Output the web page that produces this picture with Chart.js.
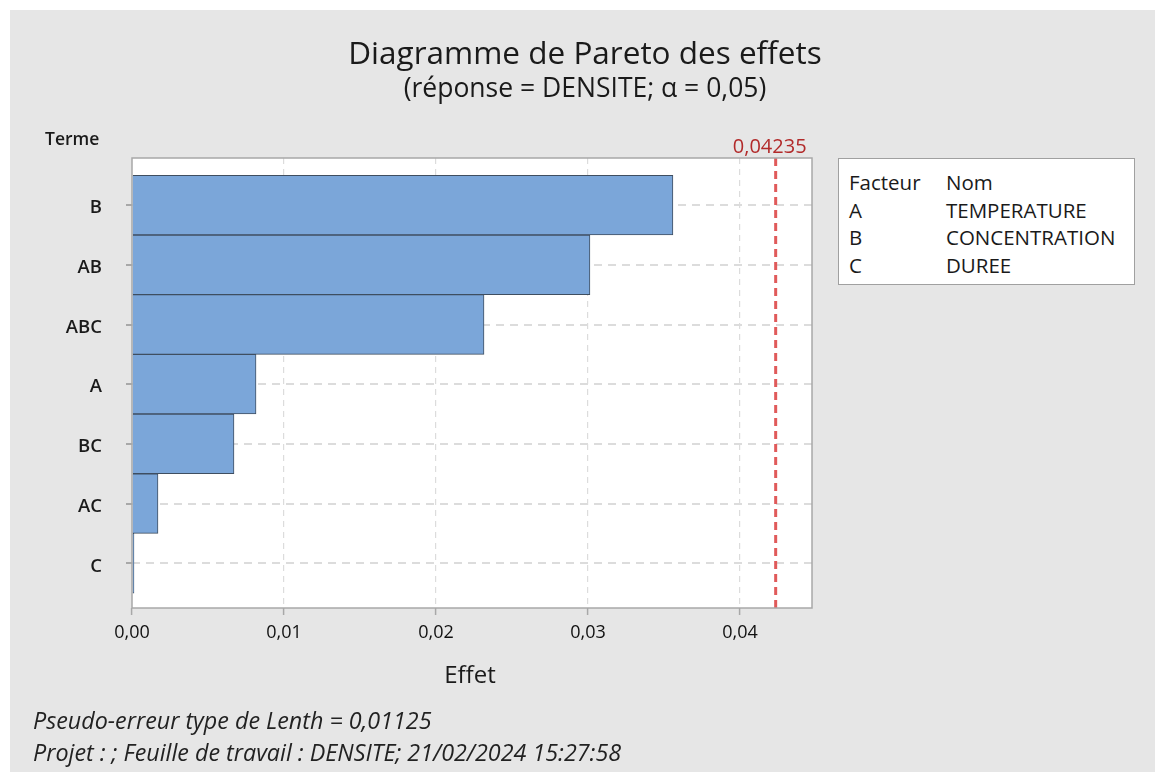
<!DOCTYPE html>
<html><head><meta charset="utf-8">
<script src="https://cdn.jsdelivr.net/npm/chart.js@4/dist/chart.umd.min.js"></script>
<style>
html,body{margin:0;padding:0;background:#fff;width:1155px;height:772px;overflow:hidden;font-family:"Open Sans","Noto Sans",sans-serif;}
#bg{position:absolute;left:10px;top:10px;right:0;bottom:0;background:#e6e6e6;}
#c{position:absolute;left:0;top:0;}
.t{position:absolute;color:#1a1a1a;white-space:nowrap;line-height:1;}
#title{left:0;width:1170px;text-align:center;top:36px;font-size:31.5px;}
#sub{left:0;width:1170px;text-align:center;top:74px;font-size:26.5px;}
#terme{left:45px;top:130px;font-size:17.5px;font-weight:600;}
#effet{left:132px;width:676px;text-align:center;top:662px;font-size:24px;}
#legend{position:absolute;left:838px;top:158px;width:297px;height:127px;background:#fff;border:1px solid #a0a0a0;box-sizing:border-box;}
#legend table{position:absolute;left:10px;top:12px;border-collapse:collapse;font-size:20.5px;color:#1a1a1a;}
#legend td{padding:0;height:27.5px;line-height:22px;vertical-align:top;}
#legend td.f{width:97px;}
.foot{position:absolute;left:33px;font-style:italic;font-size:23.3px;color:#222;line-height:1;}
</style></head>
<body>
<div id="bg"></div>
<canvas id="c" width="1155" height="772"></canvas>
<div class="t" id="title">Diagramme de Pareto des effets</div>
<div class="t" id="sub">(réponse = DENSITE; α = 0,05)</div>
<div class="t" id="terme">Terme</div>
<div class="t" id="effet">Effet</div>
<div id="legend"><table id="lt"></table></div>
<div class="foot" style="top:709px">Pseudo-erreur type de Lenth = 0,01125</div>
<div class="foot" style="top:741px">Projet : ; Feuille de travail : DENSITE; 21/02/2024 15:27:58</div>
<script>
// Data
const terms = ["B", "AB", "ABC", "A", "BC", "AC", "C"];
const effects = [0.03559, 0.03013, 0.02316, 0.00816, 0.00671, 0.00171, 0.00013];
const xTicks = [0, 0.01, 0.02, 0.03, 0.04];
const criticalValue = 0.04235;
const factorCodes = ["A", "B", "C"];
const factorNames = ["TEMPERATURE", "CONCENTRATION", "DUREE"];

// legend table
const lt = document.getElementById('lt');
let html = '<tr><td class="f">Facteur</td><td>Nom</td></tr>';
factorCodes.forEach((c,i)=>{ html += '<tr><td class="f">'+c+'</td><td>'+factorNames[i]+'</td></tr>'; });
lt.innerHTML = html;

const fmt = v => v.toFixed(2).replace('.', ',');

const framePlugin = {
  id: 'frame',
  beforeDraw(chart){
    const {ctx, chartArea:a} = chart;
    ctx.save();
    ctx.fillStyle = '#ffffff';
    ctx.fillRect(a.left, a.top, a.right-a.left, a.bottom-a.top);
    ctx.restore();
  },
  afterDatasetsDraw(chart){
    const {ctx, chartArea:a, scales} = chart;
    const x = scales.x.getPixelForValue(criticalValue);
    ctx.save();
    ctx.strokeStyle = '#e05a5a';
    ctx.lineWidth = 3;
    ctx.setLineDash([8,5]);
    ctx.beginPath(); ctx.moveTo(x, a.top); ctx.lineTo(x, a.bottom); ctx.stroke();
    ctx.setLineDash([]);
    ctx.strokeStyle = '#a8a8a8';
    ctx.lineWidth = 1.5;
    ctx.strokeRect(a.left, a.top, a.right-a.left, a.bottom-a.top);
    ctx.fillStyle = '#b22a2a';
    ctx.font = '20px "Open Sans"';
    ctx.textAlign = 'center';
    ctx.textBaseline = 'alphabetic';
    ctx.fillText(String(criticalValue).replace('.', ','), x - 6, a.top - 5);
    ctx.restore();
  }
};

new Chart(document.getElementById('c'), {
  type: 'bar',
  data: {
    datasets: [{
      data: terms.map((t,i)=>({x: effects[i], y: i})),
      backgroundColor: '#7ba6d9',
      borderColor: '#3f4e60',
      borderWidth: 1,
      barPercentage: 1,
      categoryPercentage: 1
    }]
  },
  options: {
    indexAxis: 'y',
    responsive: false,
    animation: false,
    layout: { padding: { left: 0, right: 343, top: 158, bottom: 0 } },
    plugins: { legend: {display:false}, tooltip: {enabled:false}, title:{display:false} },
    scales: {
      x: {
        type: 'linear',
        offset: false,
        min: 0, max: 0.04474,
        afterBuildTicks: s => { s.ticks = xTicks.map(v=>({value:v})); },
        afterFit: s => { s.height = 164; },
        ticks: { callback: v => fmt(v), color:'#111', font:{family:'"Open Sans"', size:18}, padding: 7, maxRotation:0 },
        grid: { offset:false, color: ctx => ctx.tick && ctx.tick.value === 0 ? 'rgba(0,0,0,0)' : '#dcdcdc', lineWidth: 1.2, tickColor:'#a8a8a8', tickLength: 7, tickWidth: 1.5 },
        border: { display:false, dash:[6,5] }
      },
      y: {
        type: 'linear',
        offset: false,
        reverse: true,
        min: -0.79, max: 6.75,
        afterBuildTicks: s => { s.ticks = terms.map((t,i)=>({value:i})); },
        afterFit: s => { s.width = 132; },
        ticks: { callback: v => terms[v], color:'#1a1a1a', font:{family:'"Open Sans"', size:18.5, weight:'600'}, padding: 24, labelOffset: 3 },
        grid: { offset:false, color:'#dcdcdc', lineWidth: 2, tickColor:'#a8a8a8', tickLength: 6, tickWidth: 2 },
        border: { display:false, dash:[8,6] }
      }
    }
  },
  plugins: [framePlugin]
});
</script>
</body></html>
